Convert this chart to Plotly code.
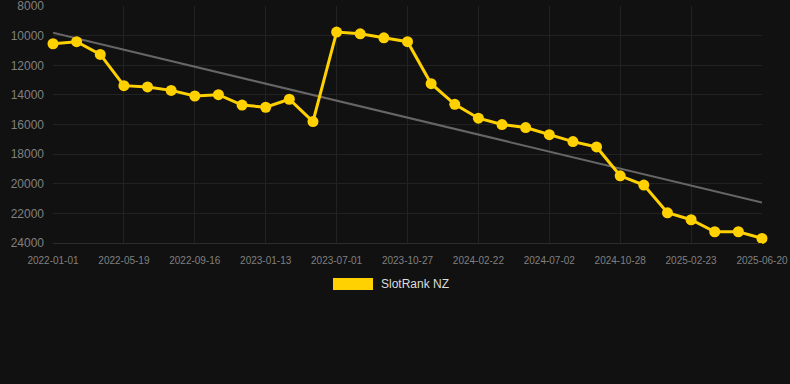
import numpy as np
import plotly.graph_objects as go

# Data
tick_labels = ["2022-01-01", "2022-05-19", "2022-09-16", "2023-01-13", "2023-07-01",
               "2023-10-27", "2024-02-22", "2024-07-02", "2024-10-28", "2025-02-23", "2025-06-20"]
rank_values = [10540, 10400, 11260, 13370, 13460, 13690, 14070, 13980, 14680, 14830,
               14290, 15800, 9750, 9870, 10140, 10400, 13240, 14630, 15570, 16000,
               16200, 16680, 17150, 17510, 19460, 20090, 21960, 22430, 23240, 23240, 23690]
trend_start_end = [9800, 21260]
y_ticks = [8000, 10000, 12000, 14000, 16000, 18000, 20000, 22000, 24000]
series_name = "SlotRank NZ"

idx = list(range(len(rank_values)))
tick_idx = idx[::3]
trend_x = [idx[0], idx[-1]]

fig = go.Figure()
fig.add_trace(go.Scatter(x=trend_x, y=trend_start_end, mode="lines",
                         line=dict(color="#666666", width=2), showlegend=False, hoverinfo="skip"))
fig.add_trace(go.Scatter(x=idx, y=rank_values, mode="lines+markers", name=series_name,
                         line=dict(color="#FFD100", width=3), cliponaxis=False,
                         marker=dict(color="#FFD100", size=11), showlegend=False))

font_family = "Liberation Sans, Arial, sans-serif"
fig.update_layout(
    width=790, height=384,
    margin=dict(l=53, r=28, t=6, b=141),
    paper_bgcolor="#111111", plot_bgcolor="#111111",
    font=dict(family=font_family, color="#888888"),
    xaxis=dict(range=[0, len(rank_values) - 1], tickvals=tick_idx, ticktext=tick_labels,
               showgrid=True, gridcolor="#222222", gridwidth=1, zeroline=False,
               showline=True, linecolor="#2c2c2c", tickfont=dict(size=10, color="#808080"),
               ticks="", ticklabelstandoff=8, automargin=False),
    yaxis=dict(range=[24000, 7990], tickvals=y_ticks,
               showgrid=True, gridcolor="#222222", gridwidth=1, zeroline=False,
               tickfont=dict(size=12, color="#808080"), tickformat="d", automargin=False,
               ticks="", ticklabelstandoff=8, ticklabeloverflow="allow"),
)
# Legend drawn as shape + text
fig.add_shape(type="rect", xref="paper", yref="paper",
              x0=(333 - 53) / 709, x1=(373 - 53) / 709,
              y0=(243 - 290) / 237, y1=(243 - 278) / 237,
              fillcolor="#FFD100", line=dict(width=0))
fig.add_annotation(xref="paper", yref="paper", x=(379 - 53) / 709, y=(243 - 284) / 237,
                   text=series_name, showarrow=False, xanchor="left", yanchor="middle",
                   font=dict(size=12, color="#dddddd", family=font_family))

fig.write_html("out.html", config={"displayModeBar": False},
               post_script="document.body.style.margin='0';")
